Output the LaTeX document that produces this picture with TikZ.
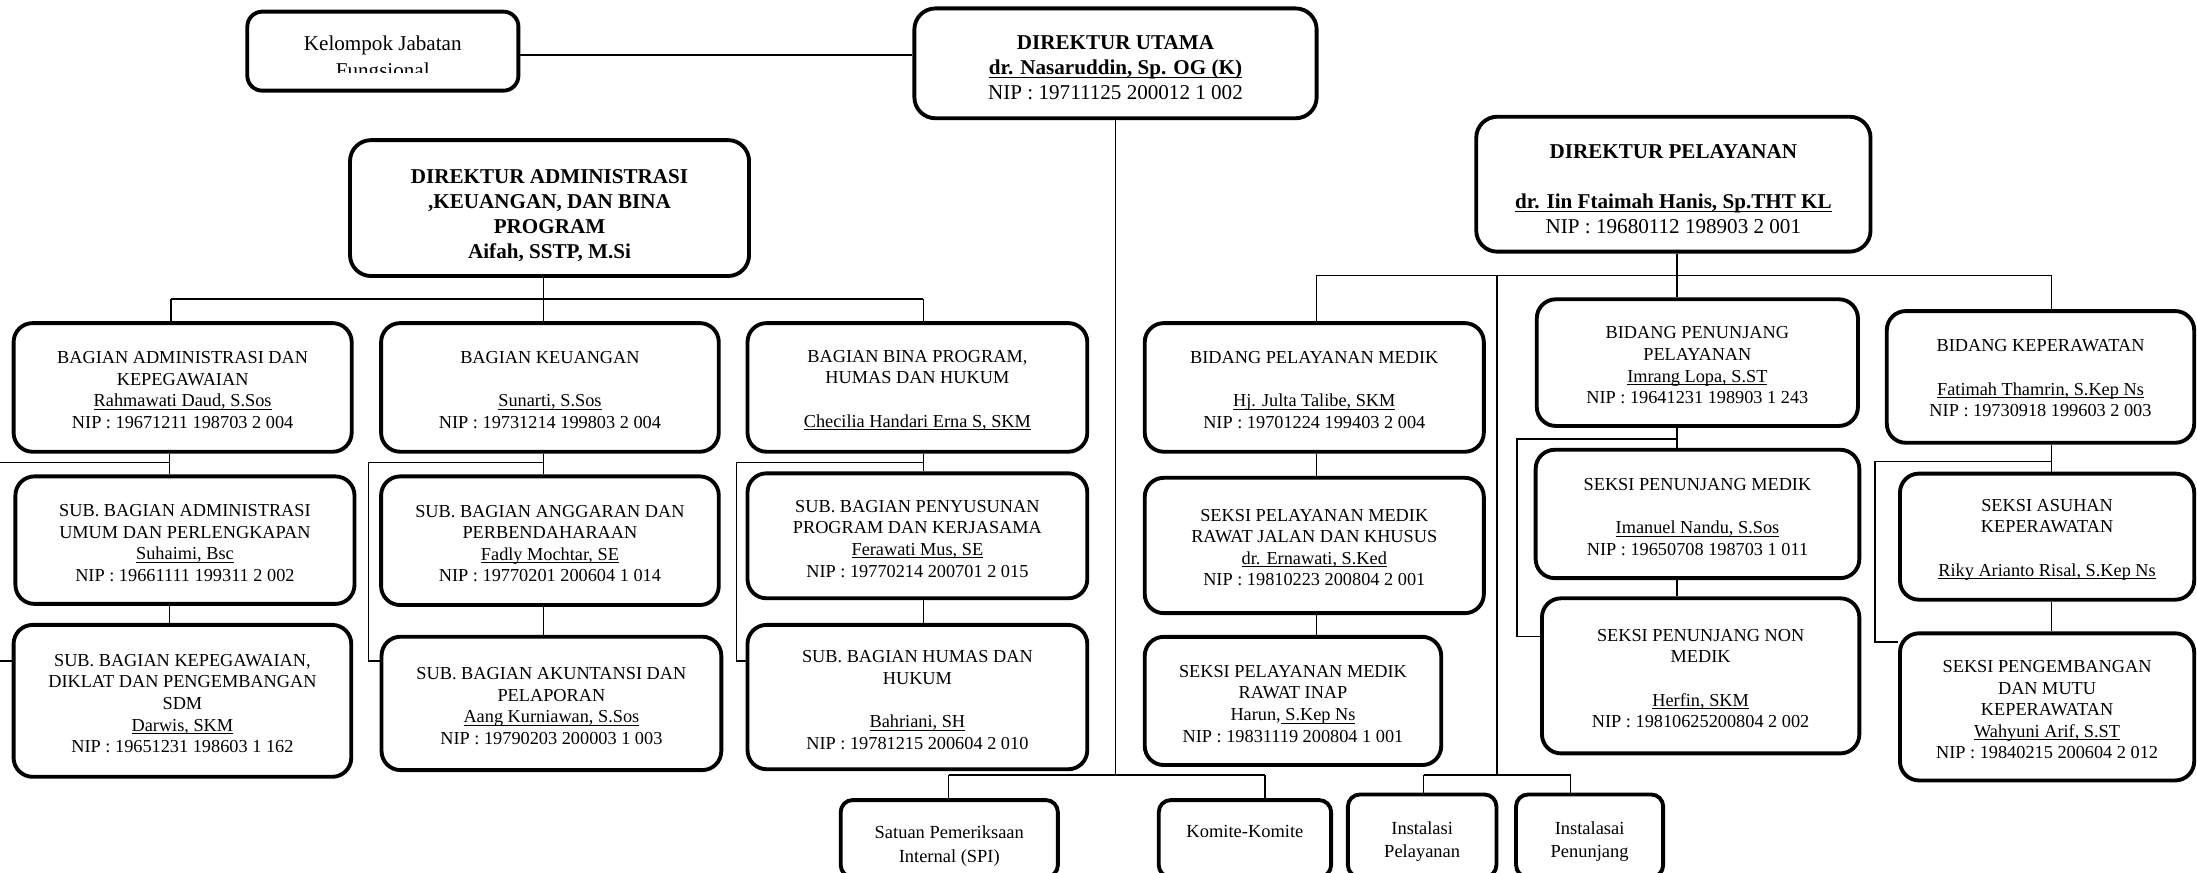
\documentclass[tikz,border=0pt]{standalone}
\usepackage{fontspec}
\setmainfont{Liberation Serif}
\usetikzlibrary{fit}
\newcommand\uln[1]{\underline{\smash{#1}}}
\newcommand\gap[1]{\mbox{}\\[#1]}

\begin{document}
\begin{tikzpicture}[x=0.028cm,y=-0.028cm]
\tikzstyle{every node}+=[inner sep=0pt]
\tikzstyle{box}=[draw, line width=2.2pt, rounded corners=0.38cm, align=center, font=\fontsize{10.4}{12.3}\selectfont]
\tikzstyle{head}=[box, rounded corners=0.42cm, font=\fontsize{12}{14.2}\selectfont]
\tikzstyle{small}=[box, rounded corners=0.24cm, font=\fontsize{10.5}{13.3}\selectfont]
\tikzstyle{link}=[line width=0.9pt]
\useasboundingbox (0,0) rectangle (1568,623);
\node[draw, line width=2.2pt, rounded corners=0.3cm, fit={(176.5,8.3) (370,64.7)}] (kjf) {};
\begin{scope}
\clip (176.5,8.3) rectangle (370,52);
\node[align=center, anchor=north, font=\fontsize{12}{15.3}\selectfont] (kjftext) at (273.2,25.5) {Kelompok Jabatan\\ Fungsional};
\end{scope}
\node[head, fit={(652.6,6) (939.7,84.4)}] (dirut) {\gap{-1.3pt}\textbf{DIREKTUR UTAMA}\\ \textbf{\uln{dr. Nasaruddin, Sp. OG (K)}}\\ NIP : 19711125 200012 1 002};
\node[head, fit={(249.8,100) (534.6,197)}] (dira) {\gap{2.7pt}\textbf{DIREKTUR ADMINISTRASI}\\ \textbf{,KEUANGAN, DAN BINA}\\ \textbf{PROGRAM}\\ \textbf{Aifah, SSTP, M.Si}};
\node[head, fit={(1053.6,83.3) (1335,179.6)}] (dirp) {\gap{-0.5pt}\textbf{DIREKTUR PELAYANAN}\\ ~\\ \textbf{\uln{dr. Iin Ftaimah Hanis, Sp.THT KL}}\\ NIP : 19680112 198903 2 001};
\node[box, fit={(9.7,230.6) (251,322.4)}] (bak) {\gap{-2.2pt}BAGIAN ADMINISTRASI DAN\\ KEPEGAWAIAN\\ \uln{Rahmawati Daud, S.Sos}\\ NIP : 19671211 198703 2 004};
\node[box, fit={(272,230.6) (513,322.4)}] (bku) {\gap{-2.2pt}BAGIAN KEUANGAN\\ ~\\ \uln{Sunarti, S.Sos}\\ NIP : 19731214 199803 2 004};
\node[box, fit={(533.5,230.6) (776,322.4)}] (bbp) {\gap{-2.2pt}BAGIAN BINA PROGRAM,\\ HUMAS DAN HUKUM\\ ~\\ \uln{Checilia Handari Erna S, SKM}};
\node[box, fit={(11,340) (253,431)}] (sbau) {\gap{-2.2pt}SUB. BAGIAN ADMINISTRASI\\ UMUM DAN PERLENGKAPAN\\ \uln{Suhaimi, Bsc}\\ NIP : 19661111 199311 2 002};
\node[box, fit={(9.7,446) (250.7,554.4)}] (sbkp) {\gap{-2.2pt}SUB. BAGIAN KEPEGAWAIAN,\\ DIKLAT DAN PENGEMBANGAN\\ SDM\\ \uln{Darwis, SKM}\\ NIP : 19651231 198603 1 162};
\node[box, fit={(272,340) (513,431.8)}] (sbag) {\gap{-2.2pt}SUB. BAGIAN ANGGARAN DAN\\ PERBENDAHARAAN\\ \uln{Fadly Mochtar, SE}\\ NIP : 19770201 200604 1 014};
\node[box, fit={(272.3,454.4) (514.8,549.6)}] (sbak) {\gap{-2.2pt}SUB. BAGIAN AKUNTANSI DAN\\ PELAPORAN\\ \uln{Aang Kurniawan, S.Sos}\\ NIP : 19790203 200003 1 003};
\node[box, fit={(533.5,337.8) (776,427)}] (sbpp) {\gap{-2.2pt}SUB. BAGIAN PENYUSUNAN\\ PROGRAM DAN KERJASAMA\\ \uln{Ferawati Mus, SE}\\ NIP : 19770214 200701 2 015};
\node[box, fit={(533.5,446) (776,549)}] (sbhh) {\gap{-2.2pt}SUB. BAGIAN HUMAS DAN\\ HUKUM\\ ~\\ \uln{Bahriani, SH}\\ NIP : 19781215 200604 2 010};
\node[box, fit={(817,230.6) (1059,322.4)}] (bpm) {\gap{-2.2pt}BIDANG PELAYANAN MEDIK\\ ~\\ \uln{Hj. Julta Talibe, SKM}\\ NIP : 19701224 199403 2 004};
\node[box, fit={(817,341) (1059,437.6)}] (sprj) {\gap{-3pt}SEKSI PELAYANAN MEDIK\\ RAWAT JALAN DAN KHUSUS\\ \uln{dr. Ernawati, S.Ked}\\ NIP : 19810223 200804 2 001};
\node[box, fit={(817,454.5) (1028.6,546)}] (spri) {\gap{-2.2pt}SEKSI PELAYANAN MEDIK\\ RAWAT INAP\\ Harun,\uln{ S.Kep Ns}\\ NIP : 19831119 200804 1 001};
\node[box, fit={(1096.8,213.6) (1326,304)}] (bpp) {\gap{-2.2pt}BIDANG PENUNJANG\\ PELAYANAN\\ \uln{Imrang Lopa, S.ST}\\ NIP : 19641231 198903 1 243};
\node[box, fit={(1096,321) (1327,412.6)}] (spm) {\gap{-2.2pt}SEKSI PENUNJANG MEDIK\\ ~\\ \uln{Imanuel Nandu, S.Sos}\\ NIP : 19650708 198703 1 011};
\node[box, fit={(1100.5,427) (1327,537.7)}] (spnm) {\gap{-2.2pt}SEKSI PENUNJANG NON\\ MEDIK\\ ~\\ \uln{Herfin, SKM}\\ NIP : 19810625200804 2 002};
\node[box, fit={(1346.6,222) (1566,316)}] (bkp) {\gap{-3.7pt}BIDANG KEPERAWATAN\\ ~\\ \uln{Fatimah Thamrin, S.Kep Ns}\\ NIP : 19730918 199603 2 003};
\node[box, fit={(1356,338) (1566,428)}] (sak) {\gap{-2.2pt}SEKSI ASUHAN\\ KEPERAWATAN\\ ~\\ \uln{Riky Arianto Risal, S.Kep Ns}};
\node[box, fit={(1356,452) (1566,557)}] (spmk) {\gap{-2.2pt}SEKSI PENGEMBANGAN\\ DAN MUTU\\ KEPERAWATAN\\ \uln{Wahyuni Arif, S.ST}\\ NIP : 19840215 200604 2 012};
\node[small, fit={(600,571) (755,626)}] (spi) {\gap{2.5pt}Satuan Pemeriksaan\\ Internal (SPI)};
\node[small, fit={(827,571) (950,626)}] (kk) {\gap{-1.8pt}Komite-Komite\\ ~};
\node[small, fit={(962,567) (1068,626)}] (ip) {\gap{0.8pt}Instalasi\\ Pelayanan};
\node[small, fit={(1082,567) (1187,626)}] (ipj) {\gap{0.8pt}Instalasai\\ Penunjang};
\coordinate (kj) at (370,39.3);
\coordinate (sp) at (796,553);
\coordinate (ab1) at (122,213.4);
\coordinate (ab2) at (388,213.4);
\coordinate (ab3) at (659,213.4);
\coordinate (c1) at (121,330);
\coordinate (c1b) at (-8,471.8);
\coordinate (c2) at (388,330);
\coordinate (c2b) at (263,471.8);
\coordinate (c3) at (659,330);
\coordinate (c3b) at (525.5,471.8);
\coordinate (pb1) at (939.5,196.5);
\coordinate (pb2) at (1068.5,196.5);
\coordinate (pb3) at (1197,196.5);
\coordinate (pb4) at (1464,196.5);
\coordinate (c5) at (1197,313.4);
\coordinate (c5b) at (1082.5,454.4);
\coordinate (c6) at (1464,329.5);
\coordinate (c6b) at (1338,458);
\coordinate (ib) at (1068.5,553);
\coordinate (ib1) at (1016,553);
\coordinate (ib2) at (1121,553);
\coordinate (bb1) at (677,553);
\coordinate (bb2) at (903,553);
\draw[link] (kjf.east |- kj) -- (dirut.west |- kj);
\draw[link] (dirut.south -| sp) -- (sp);
\draw[link] (bb1) -- (bb2);
\draw[link] (bb1) -- (bb1 |- spi.north);
\draw[link] (bb2) -- (bb2 |- kk.north);
\draw[link] (ab1) -- (ab3);
\draw[link] (ab2 |- dira.south) -- (ab2 |- bku.north);
\draw[link] (ab1) -- (ab1 |- bak.north);
\draw[link] (ab3) -- (ab3 |- bbp.north);
\draw[link] (c1 |- bak.south) -- (c1 |- sbau.north);
\draw[link] (c1 |- sbau.south) -- (c1 |- sbkp.north);
\draw[link] (c1) -| (c1b) -- (c1b -| sbkp.west);
\draw[link] (c2 |- bku.south) -- (c2 |- sbag.north);
\draw[link] (c2 |- sbag.south) -- (c2 |- sbak.north);
\draw[link] (c2) -| (c2b) -- (c2b -| sbak.west);
\draw[link] (c3 |- bbp.south) -- (c3 |- sbpp.north);
\draw[link] (c3 |- sbpp.south) -- (c3 |- sbhh.north);
\draw[link] (c3) -| (c3b) -- (c3b -| sbhh.west);
\draw[link] (pb1) -- (pb4);
\draw[link] (pb3 |- dirp.south) -- (pb3 |- bpp.north);
\draw[link] (pb1) -- (pb1 |- bpm.north);
\draw[link] (pb4) -- (pb4 |- bkp.north);
\draw[link] (bpm.south -| pb1) -- (sprj.north -| pb1);
\draw[link] (sprj.south -| pb1) -- (spri.north -| pb1);
\draw[link] (c5 |- bpp.south) -- (c5 |- spm.north);
\draw[link] (c5 |- spm.south) -- (c5 |- spnm.north);
\draw[link] (c5) -| (c5b) -- (c5b -| spnm.west);
\draw[link] (c6 |- bkp.south) -- (c6 |- sak.north);
\draw[link] (c6 |- sak.south) -- (c6 |- spmk.north);
\draw[link] (c6) -| (c6b) -- (c6b -| spmk.west);
\draw[link] (pb2) -- (ib);
\draw[link] (ib1) -- (ib2);
\draw[link] (ib1) -- (ib1 |- ip.north);
\draw[link] (ib2) -- (ib2 |- ipj.north);
\end{tikzpicture}
\end{document}
